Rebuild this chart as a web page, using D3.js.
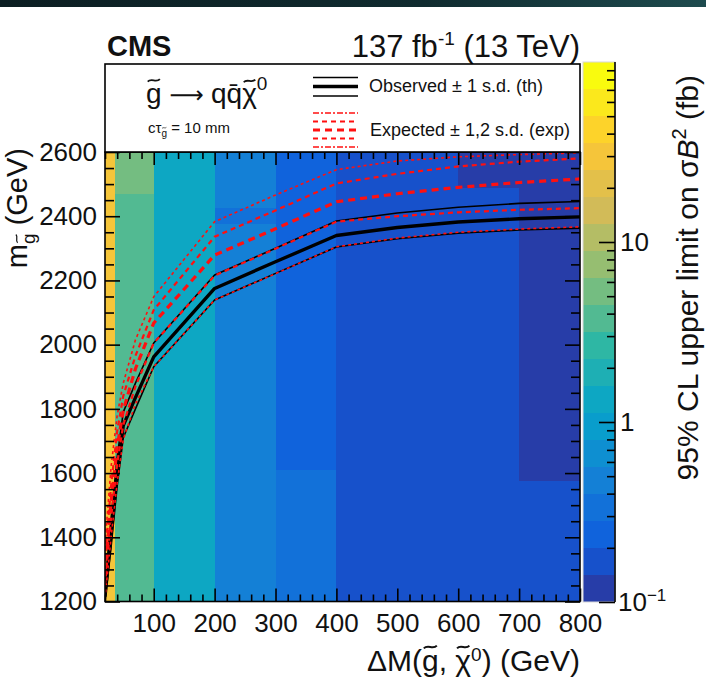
<!DOCTYPE html>
<html>
<head>
<meta charset="utf-8">
<script src="https://cdn.jsdelivr.net/npm/d3@7"></script>
<style>
  html, body { margin: 0; padding: 0; background: #fff; }
  svg { display: block; font-family: "Liberation Sans", Arial, Helvetica, sans-serif; }
</style>
</head>
<body>
<svg id="chart" width="706" height="677"></svg>
<script>
// ---- Limit cells: [ΔM low, ΔM high, m(gluino) low, m(gluino) high, 95% CL limit (fb)]
const limitCells = [
  [20, 37, 1200, 2600, 30],
  [37, 100, 1200, 2470, 3.8],
  [37, 100, 2470, 2600, 5.3],
  [100, 200, 1200, 2600, 1.3],
  [200, 300, 1200, 2375, 0.47],
  [200, 300, 2375, 2425, 0.33],
  [200, 300, 2425, 2600, 0.47],
  [300, 400, 1200, 1610, 0.33],
  [300, 400, 1610, 2600, 0.24],
  [400, 600, 1200, 2600, 0.17],
  [600, 700, 1200, 2487.5, 0.17],
  [600, 700, 2487.5, 2600, 0.12],
  [700, 800, 1200, 1575, 0.17],
  [700, 800, 1575, 2600, 0.12]
];

// ---- Exclusion contours: gluino mass (GeV) at each mass splitting ΔM (GeV)
const deltaM        = [20,   30,   40,   50,   70,   100,  200,  300,  400,  500,  600,  700,  800];
const observed      = [1215, 1410, 1600, 1748, 1835, 1962, 2175, 2258, 2340, 2365, 2382, 2392, 2398];
const observedUp    = [1250, 1460, 1650, 1790, 1880, 2005, 2217, 2300, 2385, 2410, 2428, 2440, 2446];
const observedDown  = [1200, 1370, 1560, 1710, 1800, 1931, 2139, 2222, 2304, 2330, 2347, 2357, 2363];
const expected      = [1290, 1510, 1680, 1795, 1925, 2067, 2279, 2361, 2445, 2470, 2490, 2505, 2516];
const expectedUp1   = [1330, 1560, 1730, 1840, 1965, 2108, 2336, 2418, 2502, 2532, 2555, 2570, 2580];
const expectedDown1 = [1250, 1460, 1630, 1750, 1870, 2005, 2215, 2299, 2383, 2400, 2412, 2420, 2425];
const expectedUp2   = [1380, 1620, 1780, 1880, 2015, 2149, 2383, 2466, 2545, 2572, 2585, 2592, 2597];
const expectedDown2 = [1210, 1400, 1570, 1705, 1815, 1931, 2139, 2221, 2305, 2332, 2350, 2360, 2367];

// ---- Axis ticks
const xMajorTicks = [100, 200, 300, 400, 500, 600, 700, 800];
const yMajorTicks = [1200, 1400, 1600, 1800, 2000, 2200, 2400, 2600];
const zMajorTicks = [0.1, 1, 10];

// ---- Colour palette (ROOT "bird") and number of contour bands
const birdStops  = [0, 0.125, 0.25, 0.375, 0.5, 0.625, 0.75, 0.875, 1];
const birdColors = ["#352a87", "#0f5cdd", "#1481d6", "#06a4ca", "#2eb7a4", "#87bf77", "#d1bb59", "#fec832", "#f9fb0e"];
const nBands = 20;

const svg = d3.select("#chart");
const W = 706;
const ink = "#111";

// Frame geometry
const plot = { left: 105, right: 580, top: 152, bottom: 601.5 };
const bar = { left: 583, right: 615, top: 62, bottom: 602 };

const x = d3.scaleLinear().domain([20, 800]).range([plot.left, plot.right]);
const y = d3.scaleLinear().domain([1200, 2600]).range([plot.bottom, plot.top]);
const z = d3.scaleLog().domain([0.1, 100]).range([bar.bottom, bar.top]);

const palette = d3.scaleLinear().domain(birdStops).range(birdColors).interpolate(d3.interpolateRgb);
const zMinLog = Math.log10(0.1), zMaxLog = Math.log10(100);
const bandWidth = (zMaxLog - zMinLog) / nBands;
function bandIndex(v) {
  const k = Math.floor((Math.log10(v) - zMinLog) / bandWidth);
  return Math.max(0, Math.min(nBands - 1, k));
}
function bandColorByIndex(k) {
  const idx = Math.floor((k + 0.99) * 255 / nBands);
  return palette(Math.min(idx, 254) / 254);
}
const cellColor = v => bandColorByIndex(bandIndex(v));

// Draws a tilde accent above character i of a text element (same coordinate frame)
function addTilde(parent, textSel, i, fontSize, lift) {
  const ext = textSel.node().getExtentOfChar(i);
  const w = ext.width * 0.78;
  const cx = ext.x + ext.width / 2;
  const baseline = ext.y + ext.height * 0.8;
  const ty = baseline - fontSize * (lift || 0.72);
  const a = fontSize * 0.045;
  const x0 = cx - w / 2;
  parent.append("path")
    .attr("d", `M${x0},${ty + a} C${x0 + w * 0.3},${ty - 2.2 * a} ${x0 + w * 0.7},${ty + 2.2 * a} ${x0 + w},${ty - a}`)
    .attr("fill", "none").attr("stroke", ink).attr("stroke-width", fontSize * 0.065);
}

const defs = svg.append("defs");

// Dark strip along the top edge
const grad = defs.append("linearGradient").attr("id", "topStrip").attr("x1", 0).attr("x2", 1);
grad.append("stop").attr("offset", 0).attr("stop-color", "#0c1e22");
grad.append("stop").attr("offset", 0.6).attr("stop-color", "#102b2f");
grad.append("stop").attr("offset", 1).attr("stop-color", "#1e4b4e");
svg.append("rect").attr("x", 0).attr("y", 0).attr("width", W).attr("height", 7).attr("fill", "url(#topStrip)");

defs.append("clipPath").attr("id", "plotClip")
  .append("rect").attr("x", plot.left).attr("y", plot.top)
  .attr("width", plot.right - plot.left).attr("height", plot.bottom - plot.top);

// ---- Limit cells
svg.append("g").selectAll("rect").data(limitCells).join("rect")
  .attr("x", d => x(d[0]))
  .attr("width", d => x(d[1]) - x(d[0]))
  .attr("y", d => y(d[3]))
  .attr("height", d => y(d[2]) - y(d[3]))
  .attr("fill", d => cellColor(d[4]))
  .attr("shape-rendering", "crispEdges");

// ---- Contours
const line = d3.line().x(d => x(d[0])).y(d => y(d[1]));
const pairs = arr => deltaM.map((dm, i) => [dm, arr[i]]);
const curves = svg.append("g").attr("clip-path", "url(#plotClip)").attr("fill", "none");

const obsStyle = [
  { data: observedUp, w: 1.6 },
  { data: observedDown, w: 1.6 },
  { data: observed, w: 3.4 }
];
obsStyle.forEach(s => curves.append("path").attr("d", line(pairs(s.data)))
  .attr("stroke", "#000").attr("stroke-width", s.w).attr("stroke-linejoin", "round"));

const expStyle = [
  { data: expectedUp2, w: 1.6, dash: "3,3" },
  { data: expectedDown2, w: 1.6, dash: "3,3" },
  { data: expectedUp1, w: 2.2, dash: "5,4" },
  { data: expectedDown1, w: 2.2, dash: "5,4" },
  { data: expected, w: 3.2, dash: "7,5" }
];
expStyle.forEach(s => curves.append("path").attr("d", line(pairs(s.data)))
  .attr("stroke", "#ff1010").attr("stroke-width", s.w).attr("stroke-dasharray", s.dash));

// ---- Axes (ticks pointing inwards on all four sides)
const tickStyle = g => g.call(a => a.select(".domain").remove())
  .call(a => a.selectAll("line").attr("stroke", "#000").attr("stroke-width", 1.6))
  .call(a => a.selectAll("text").attr("fill", ink).attr("font-size", 26)
    .attr("font-family", "'Liberation Sans', Arial, sans-serif"));

const xMinorTicks = d3.range(20, 800, 20).filter(v => v % 100 !== 0);
const yMinorTicks = d3.range(1200, 2600, 50).filter(v => v % 200 !== 0);

svg.append("g").attr("transform", `translate(0,${plot.bottom})`)
  .call(d3.axisBottom(x).tickValues(xMajorTicks).tickSize(-13).tickPadding(12).tickFormat(d3.format("d")))
  .call(tickStyle);
svg.append("g").attr("transform", `translate(0,${plot.bottom})`)
  .call(d3.axisBottom(x).tickValues(xMinorTicks).tickSize(-7).tickFormat(""))
  .call(tickStyle);
svg.append("g").attr("transform", `translate(0,${plot.top})`)
  .call(d3.axisTop(x).tickValues(xMajorTicks).tickSize(-13).tickFormat(""))
  .call(tickStyle);
svg.append("g").attr("transform", `translate(0,${plot.top})`)
  .call(d3.axisTop(x).tickValues(xMinorTicks).tickSize(-7).tickFormat(""))
  .call(tickStyle);

svg.append("g").attr("transform", `translate(${plot.left},0)`)
  .call(d3.axisLeft(y).tickValues(yMajorTicks).tickSize(-15).tickPadding(8).tickFormat(d3.format("d")))
  .call(tickStyle);
svg.append("g").attr("transform", `translate(${plot.left},0)`)
  .call(d3.axisLeft(y).tickValues(yMinorTicks).tickSize(-9).tickFormat(""))
  .call(tickStyle);
svg.append("g").attr("transform", `translate(${plot.right},0)`)
  .call(d3.axisRight(y).tickValues(yMajorTicks).tickSize(-15).tickFormat(""))
  .call(tickStyle);
svg.append("g").attr("transform", `translate(${plot.right},0)`)
  .call(d3.axisRight(y).tickValues(yMinorTicks).tickSize(-9).tickFormat(""))
  .call(tickStyle);

// Plot frame
svg.append("rect").attr("x", plot.left).attr("y", plot.top)
  .attr("width", plot.right - plot.left).attr("height", plot.bottom - plot.top)
  .attr("fill", "none").attr("stroke", "#000").attr("stroke-width", 1.6);

// ---- Colour bar
const bandLevels = d3.range(nBands + 1).map(k => Math.pow(10, zMinLog + k * bandWidth));
svg.append("g").selectAll("rect").data(d3.range(nBands)).join("rect")
  .attr("x", bar.left).attr("width", bar.right - bar.left)
  .attr("y", k => z(bandLevels[k + 1]))
  .attr("height", k => z(bandLevels[k]) - z(bandLevels[k + 1]))
  .attr("fill", k => bandColorByIndex(k))
  .attr("shape-rendering", "crispEdges");
svg.append("rect").attr("x", bar.left).attr("y", bar.top)
  .attr("width", bar.right - bar.left).attr("height", bar.bottom - bar.top)
  .attr("fill", "none").attr("stroke", "#d8d8d8").attr("stroke-width", 1);

const zMinorTicks = [];
[0.1, 1, 10].forEach(dec => d3.range(2, 10).forEach(m => zMinorTicks.push(dec * m)));
svg.append("g").attr("transform", `translate(${bar.right},0)`)
  .call(d3.axisRight(z).tickValues(zMajorTicks).tickSize(-16).tickFormat(""))
  .call(tickStyle);
svg.append("g").attr("transform", `translate(${bar.right},0)`)
  .call(d3.axisRight(z).tickValues(zMinorTicks).tickSize(-8).tickFormat(""))
  .call(tickStyle);
svg.append("line").attr("x1", bar.right).attr("x2", bar.right)
  .attr("y1", bar.top).attr("y2", bar.bottom).attr("stroke", "#000").attr("stroke-width", 1.6);

const zLab = svg.append("g").attr("font-size", 26).attr("fill", ink);
zLab.append("text").attr("x", 620).attr("y", z(10)).attr("dy", "0.36em").text("10");
zLab.append("text").attr("x", 620).attr("y", z(1)).attr("dy", "0.36em").text("1");
const tMinus = zLab.append("text").attr("x", 618).attr("y", z(0.1)).attr("dy", "0.36em");
tMinus.append("tspan").text("10");
tMinus.append("tspan").attr("dy", -10).attr("font-size", 17).text("\u22121");

// Colour-bar title
const zTitle = svg.append("text")
  .attr("transform", `translate(698,75) rotate(-90)`)
  .attr("text-anchor", "end").attr("font-size", 30).attr("fill", ink);
zTitle.append("tspan").text("95% CL upper limit on \u03C3");
zTitle.append("tspan").attr("font-style", "italic").text("B");
zTitle.append("tspan").attr("dy", -12).attr("font-size", 20).text("2");
zTitle.append("tspan").attr("dy", 12).text(" (fb)");

// ---- Axis titles
const yTitleG = svg.append("g").attr("transform", `translate(27,148) rotate(-90)`);
const yTitle = yTitleG.append("text")
  .attr("text-anchor", "end").attr("font-size", 29).attr("fill", ink);
yTitle.append("tspan").text("m");
yTitle.append("tspan").attr("dy", 8).attr("font-size", 19).text("g");
yTitle.append("tspan").attr("dy", -8).text(" (GeV)");
addTilde(yTitleG, yTitle, 1, 19, 0.95);

const xTitleG = svg.append("g");
const xTitle = xTitleG.append("text")
  .attr("x", plot.right).attr("y", 671)
  .attr("text-anchor", "end").attr("font-size", 30).attr("fill", ink);
xTitle.append("tspan").text("\u0394M(g, \u03C7");
xTitle.append("tspan").attr("dy", -10).attr("font-size", 19).text("0");
xTitle.append("tspan").attr("dy", 10).text(") (GeV)");
addTilde(xTitleG, xTitle, 3, 30, 0.78);
addTilde(xTitleG, xTitle, 6, 30, 0.78);

// ---- Header
svg.append("text").attr("x", 107).attr("y", 56).attr("font-size", 29)
  .attr("font-weight", "bold").attr("fill", ink).text("CMS");
const lumi = svg.append("text").attr("x", plot.right).attr("y", 57)
  .attr("text-anchor", "end").attr("font-size", 31).attr("fill", ink);
lumi.append("tspan").text("137 fb");
lumi.append("tspan").attr("dy", -12).attr("font-size", 19).text("-1");
lumi.append("tspan").attr("dy", 12).text(" (13 TeV)");

// ---- Legend box
const legTop = 64;
svg.append("rect").attr("x", plot.left).attr("y", legTop)
  .attr("width", plot.right - plot.left).attr("height", plot.top - legTop)
  .attr("fill", "#fff").attr("stroke", "#000").attr("stroke-width", 1.6);

const procG = svg.append("g");
const proc = procG.append("text").attr("x", 146).attr("y", 103)
  .attr("font-size", 28).attr("fill", ink);
proc.append("tspan").text("g");
proc.append("tspan").attr("dx", 8).attr("font-family", "'DejaVu Sans', sans-serif").attr("font-size", 24).text("\u27F6");
proc.append("tspan").attr("dx", 7).text("qq\u0304\u03C7");
proc.append("tspan").attr("dy", -13).attr("font-size", 19).text("0");
addTilde(procG, proc, 0, 28, 0.8);
addTilde(procG, proc, 5, 28, 0.78);

const ctauG = svg.append("g");
const ctau = ctauG.append("text").attr("x", 148).attr("y", 133)
  .attr("font-size", 15).attr("fill", ink);
ctau.append("tspan").text("c\u03C4");
ctau.append("tspan").attr("dy", 4).attr("font-size", 10).text("g");
ctau.append("tspan").attr("dy", -4).text(" = 10 mm");
addTilde(ctauG, ctau, 2, 10, 0.9);

// Observed legend symbol
[[77.5, 1.6], [86.5, 3.4], [96, 1.6]].forEach(([ly, w]) =>
  svg.append("line").attr("x1", 313).attr("x2", 358).attr("y1", ly).attr("y2", ly)
    .attr("stroke", "#000").attr("stroke-width", w));
svg.append("text").attr("x", 369).attr("y", 92).attr("font-size", 18).attr("fill", ink)
  .text("Observed \u00B1 1 s.d. (th)");

// Expected legend symbol
[[113, 1.6, "6,2,2,2"], [121.5, 2.2, "5,4"], [130, 3.2, "7,5"], [138.5, 2.2, "5,4"], [147, 1.6, "6,2,2,2"]]
  .forEach(([ly, w, dash]) =>
    svg.append("line").attr("x1", 313).attr("x2", 358).attr("y1", ly).attr("y2", ly)
      .attr("stroke", "#ff1010").attr("stroke-width", w).attr("stroke-dasharray", dash));
svg.append("text").attr("x", 370).attr("y", 136).attr("font-size", 18).attr("fill", ink)
  .text("Expected \u00B1 1,2 s.d. (exp)");
</script>
</body>
</html>
